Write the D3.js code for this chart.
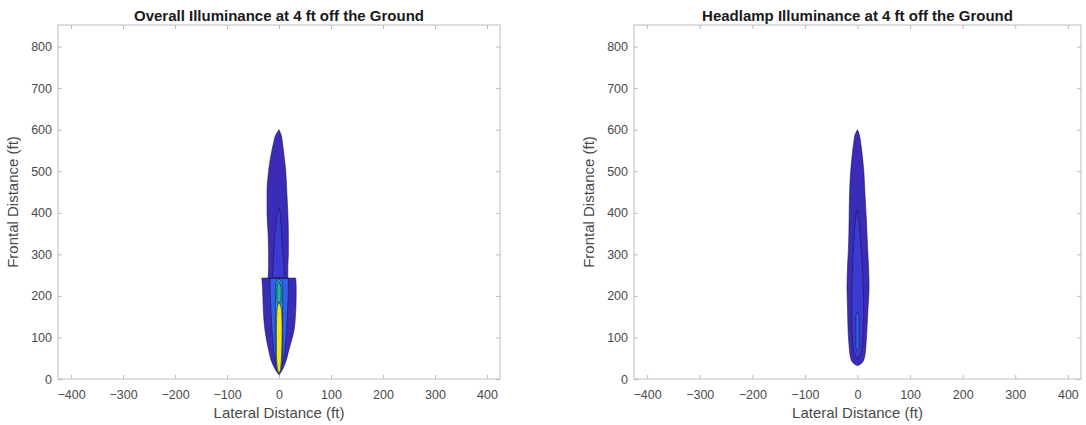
<!DOCTYPE html>
<html>
<head>
<meta charset="utf-8">
<script src="https://cdn.jsdelivr.net/npm/d3@7"></script>
<style>
  html, body { margin: 0; padding: 0; background: #ffffff; }
  svg { display: block; font-family: "Liberation Sans", Arial, sans-serif; }
</style>
</head>
<body>
<svg id="chart" width="1086" height="425"></svg>
<script>
// ---------------- DATA ----------------
const panelTitles = ["Overall Illuminance at 4 ft off the Ground", "Headlamp Illuminance at 4 ft off the Ground"];
const xLabel = "Lateral Distance (ft)";
const yLabel = "Frontal Distance (ft)";
const xTicks = [-400, -300, -200, -100, 0, 100, 200, 300, 400];
const yTicks = [0, 100, 200, 300, 400, 500, 600, 700, 800];
const xDomain = [-425, 425];
const yDomain = [0, 852];

// contour regions: [frontal distance, left lateral edge, right lateral edge]
const overallLevel1a = [[10,0,0],[15,-3,3],[38,-13,12],[70,-20,19],[118,-27,29],[160,-30,32],[198,-31,33],[225,-32,33],[243,-33,32]];
const overallLevel1b = [[243,-21,17],[270,-20,17],[300,-20,18],[350,-21,18],[400,-23,17],[450,-23,15],[500,-20,13],[535,-16,10],[565,-11,7],[588,-6,4],[600,0,0]];
const overallLevel2 = [[244,-13,11],[280,-11,9],[330,-9,6],[370,-6,4],[400,-3,2],[410,0,0]];
const overallLevel3 = [[22,0,0],[40,-7,7],[80,-11,12],[130,-14,15],[180,-16,17],[215,-17,18],[242,-17,18]];
const overallLevel4 = [[12,0,0],[25,-5,5],[70,-7,7],[150,-7,7],[210,-7,7],[232,-6,6],[240,0,0]];
const overallLevel5 = [[180,0,0],[190,-4,4],[215,-4,4],[226,-3,3],[233,0,0]];
const overallLevel6 = [[13,0,0],[24,-3,3],[60,-5,5],[120,-5,6],[165,-4,5],[186,0,0]];

const headlampLevel1 = [[32,0,0],[37,-7,7],[50,-13,13],[80,-16,16],[120,-18,18],[170,-19,20],[220,-20,22],[270,-19,21],[320,-17,19],[380,-16,17],[450,-15,14],[500,-13,12],[540,-10,9],[570,-7,6],[590,-4,3],[600,0,0]];
const headlampLevel2 = [[48,0,0],[70,-8,8],[150,-11,12],[250,-10,10],[330,-7,6],[390,-3,2],[408,0,0]];
const headlampLevel3 = [[68,0,0],[76,-3,3],[150,-3,3],[162,0,0]];

const overallRegions = [overallLevel1a, overallLevel1b, overallLevel2, overallLevel3, overallLevel4, overallLevel5, overallLevel6];
const overallRegionLevels = [0, 0, 1, 2, 3, 4, 5];
const headlampRegions = [headlampLevel1, headlampLevel2, headlampLevel3];
const headlampRegionLevels = [0, 1, 2];

// ---------------- STYLE ----------------
const levelColors = ["#3a2cb6", "#3c3ad2", "#2f62ea", "#2596dc", "#22b896", "#f2e61c"];
const panels = [
  { left: 58, right: 500, top: 25, bottom: 379, title: panelTitles[0], regions: overallRegions, levels: overallRegionLevels },
  { left: 634, right: 1081, top: 25, bottom: 379, title: panelTitles[1], regions: headlampRegions, levels: headlampRegionLevels }
];
const axisColor = "#bcbcbc";
const textColor = "#4a4a4a";

const svg = d3.select("#chart");

panels.forEach(p => {
  const x = d3.scaleLinear().domain(xDomain).range([p.left, p.right]);
  const y = d3.scaleLinear().domain(yDomain).range([p.bottom, p.top]);
  const g = svg.append("g");

  const area = d3.area()
    .y(d => y(d[0]))
    .x0(d => x(d[1]))
    .x1(d => x(d[2]))
    .curve(d3.curveMonotoneY);

  p.regions.forEach((r, i) => {
    g.append("path")
      .attr("d", area(r))
      .attr("fill", levelColors[p.levels[i]])
      .attr("stroke", "#1a1440")
      .attr("stroke-width", 0.7)
      .attr("stroke-opacity", 0.8);
  });

  g.append("rect")
    .attr("x", p.left).attr("y", p.top)
    .attr("width", p.right - p.left).attr("height", p.bottom - p.top)
    .attr("fill", "none").attr("stroke", axisColor).attr("stroke-width", 1);

  const xb = d3.axisBottom(x).tickValues(xTicks).tickSize(-4).tickPadding(11);
  const xt = d3.axisTop(x).tickValues(xTicks).tickSize(-4).tickFormat("");
  const yl = d3.axisLeft(y).tickValues(yTicks).tickSize(-4).tickPadding(6);
  const yr = d3.axisRight(y).tickValues(yTicks).tickSize(-4).tickFormat("");

  const styleAxis = sel => {
    sel.select(".domain").remove();
    sel.selectAll(".tick line").attr("stroke", axisColor);
    sel.selectAll("text").attr("fill", textColor).attr("font-size", 12.5);
  };
  g.append("g").attr("transform", `translate(0,${p.bottom})`).call(xb).call(styleAxis);
  g.append("g").attr("transform", `translate(0,${p.top})`).call(xt).call(styleAxis);
  g.append("g").attr("transform", `translate(${p.left},0)`).call(yl).call(styleAxis);
  g.append("g").attr("transform", `translate(${p.right},0)`).call(yr).call(styleAxis);

  g.append("text")
    .attr("x", (p.left + p.right) / 2).attr("y", 21)
    .attr("text-anchor", "middle")
    .attr("font-size", 15).attr("font-weight", "bold").attr("fill", "#1a1a1a")
    .text(p.title);

  g.append("text")
    .attr("x", (p.left + p.right) / 2).attr("y", 418)
    .attr("text-anchor", "middle")
    .attr("font-size", 15).attr("fill", textColor)
    .text(xLabel);
  g.append("text")
    .attr("transform", `translate(${p.left - 40},${(p.top + p.bottom) / 2}) rotate(-90)`)
    .attr("text-anchor", "middle")
    .attr("font-size", 15).attr("fill", textColor)
    .text(yLabel);
});
</script>
</body>
</html>
